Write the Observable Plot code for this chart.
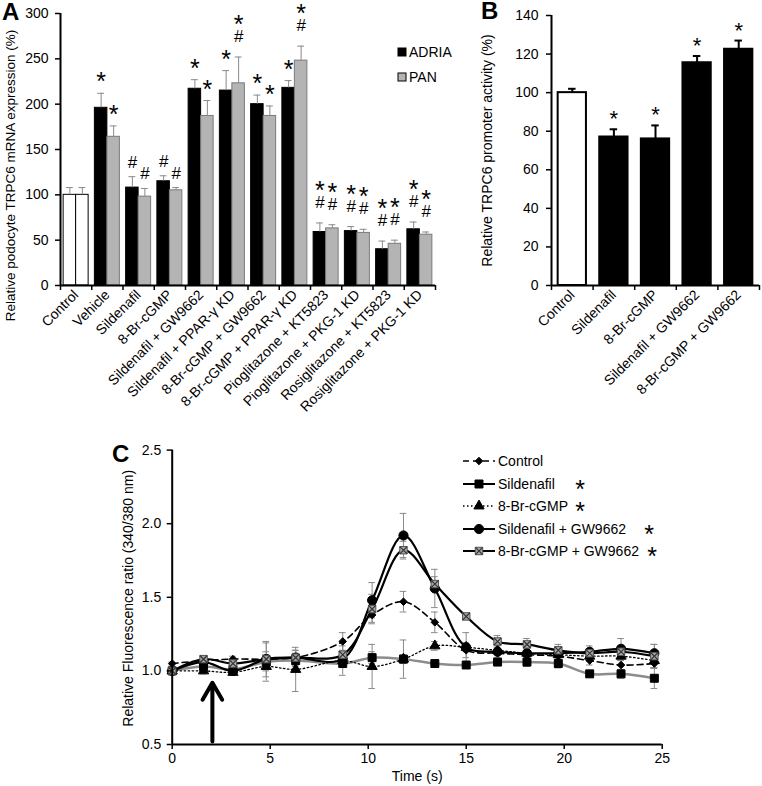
<!DOCTYPE html>
<html><head><meta charset="utf-8">
<script src="https://cdn.jsdelivr.net/npm/d3@7"></script>
<script src="https://cdn.jsdelivr.net/npm/@observablehq/plot@0.6"></script>
<style>
body{margin:0;background:#fff;}
#fig{position:relative;width:762px;height:786px;overflow:hidden;background:#fff;font-family:"Liberation Sans",Arial,sans-serif;color:#000;}
</style></head><body><div id="fig"></div>
<script>
// ---------- Panel A data ----------
const groupsA = ["Control","Vehicle","Sildenafil","8-Br-cGMP","Sildenafil + GW9662","Sildenafil + PPAR-γ KD","8-Br-cGMP + GW9662","8-Br-cGMP + PPAR-γ KD","Pioglitazone + KT5823","Pioglitazone + PKG-1 KD","Rosiglitazone + KT5823","Rosiglitazone + PKG-1 KD"];
const seriesA = ["ADRIA","PAN"];
const adriaA    = [100,196,108,115,217,215,200,218,59,60,40,62];
const adriaTopA = [108,212,120,121,227,237,210,226,69,65,49,70];
const panA      = [100,164,98,105,187,223,187,248,63,58,46,56];
const panTopA   = [108,176,107,108,204,252,198,264,67,62,50,59];
const adriaStarA = [0,1,0,0,1,1,1,1,1,1,1,1];
const adriaHashA = [0,0,1,1,0,0,0,0,1,1,1,1];
const panStarA   = [0,1,0,0,1,1,1,1,1,1,1,1];
const panHashA   = [0,0,1,1,0,1,0,1,1,1,1,1];
const yTicksA = [0,50,100,150,200,250,300];
const yLabelA = "Relative podocyte TRPC6 mRNA expression (%)";

// ---------- Panel B data ----------
const groupsB = ["Control","Sildenafil","8-Br-cGMP","Sildenafil + GW9662","8-Br-cGMP + GW9662"];
const valuesB = [100,77,76,115.5,122.5];
const topB    = [102,81,83,119,127];
const starB   = [0,1,1,1,1];
const yTicksB = [0,20,40,60,80,100,120,140];
const yLabelB = "Relative TRPC6 promoter activity (%)";

// ---------- Panel C data ----------
const timesC = [0,1.6,3.1,4.8,6.3,8.7,10.2,11.8,13.4,15.0,16.6,18.1,19.7,21.3,22.9,24.6];
const seriesC = ["Control","Sildenafil","8-Br-cGMP","Sildenafil + GW9662","8-Br-cGMP + GW9662"];
const controlC    = [1.05,1.07,1.08,1.08,1.09,1.20,1.38,1.47,1.33,1.14,1.12,1.11,1.10,1.07,1.04,1.05];
const controlErrC = [0.01,0.02,0.02,0.03,0.03,0.06,0.05,0.07,0.07,0.05,0.03,0.03,0.03,0.03,0.03,0.03];
const sildC       = [1.00,1.03,1.01,1.06,1.07,1.05,1.09,1.08,1.05,1.04,1.06,1.06,1.05,0.98,0.98,0.95];
const sildErrC    = [0.01,0.03,0.03,0.13,0.04,0.08,0.04,0.13,0.02,0.02,0.02,0.03,0.03,0.02,0.03,0.07];
const brC         = [1.00,1.00,0.99,1.03,1.01,1.07,1.03,1.08,1.17,1.16,1.14,1.12,1.11,1.10,1.10,1.07];
const brErrC      = [0.01,0.02,0.02,0.03,0.15,0.03,0.15,0.03,0.03,0.03,0.03,0.03,0.03,0.03,0.03,0.05];
const sildGwC     = [1.00,1.06,1.00,1.08,1.09,1.08,1.48,1.92,1.56,1.16,1.13,1.12,1.12,1.13,1.15,1.12];
const sildGwErrC  = [0.01,0.03,0.03,0.05,0.05,0.05,0.12,0.15,0.13,0.10,0.05,0.04,0.04,0.04,0.07,0.06];
const brGwC       = [1.00,1.08,1.05,1.08,1.09,1.11,1.42,1.82,1.59,1.37,1.20,1.18,1.14,1.12,1.13,1.10];
const brGwErrC    = [0.01,0.02,0.03,0.12,0.05,0.06,0.10,0.06,0.05,0.02,0.04,0.04,0.04,0.03,0.04,0.08];
const starC = [0,1,1,1,1];
const stimulusC = [{t: 2.05, from: 0.52, to: 0.92}];
const yTicksC = [0.5,1.0,1.5,2.0,2.5];
const xTicksC = [0,5,10,15,20,25];
const yLabelC = "Relative Fluorescence ratio (340/380 nm)";
const xLabelC = "Time (s)";

// ---------- helpers ----------
const FONT = "Liberation Sans, Arial, sans-serif";
const fig = document.getElementById("fig");
function place(el, left, top){ el.style.position="absolute"; el.style.left=left+"px"; el.style.top=top+"px"; fig.appendChild(el); }
const baseStyle = {fontFamily: FONT, fontSize: "14px", background: "transparent", overflow: "visible", color: "black"};

// ---------- Panel A ----------
const rowsA = groupsA.flatMap((g,i) => [
  {g, i, s:"ADRIA", v: adriaA[i], top: adriaTopA[i], star: adriaStarA[i], hash: adriaHashA[i]},
  {g, i, s:"PAN",   v: panA[i],   top: panTopA[i],   star: panStarA[i],   hash: panHashA[i]}
]);
const slotA = {ADRIA:[0.1,0.5], PAN:[0.5,0.9]};
const cxA = d => d.i + (slotA[d.s][0]+slotA[d.s][1])/2;
const fillA = d => d.i===0 ? "white" : (d.s==="ADRIA" ? "black" : "#b4b4b4");
const strokeA = d => d.i===0 ? "black" : (d.s==="ADRIA" ? "black" : "#7a7a7a");

const plotA = Plot.plot({
  width: 470, height: 440, marginLeft: 60, marginRight: 35, marginTop: 13, marginBottom: 155,
  style: baseStyle,
  x: {domain:[0,12]}, y: {domain:[0,300]},
  marks: [
    Plot.rectY(rowsA, {x1: d=>d.i+slotA[d.s][0], x2: d=>d.i+slotA[d.s][1], y1: 0, y2: "v", fill: fillA, stroke: strokeA, strokeWidth: 1}),
    Plot.ruleX(rowsA, {x: cxA, y1: "v", y2: "top", stroke: "#8a8a8a", strokeWidth: 1}),
    Plot.ruleY(rowsA, {y: "top", x1: d=>cxA(d)-0.11, x2: d=>cxA(d)+0.11, stroke: "#8a8a8a", strokeWidth: 1}),
    Plot.text(rowsA.filter(d=>d.star && !d.hash), {x: cxA, y: "top", text: ()=>"*", fontSize: 25, lineAnchor: "bottom", dy: -3}),
    Plot.text(rowsA.filter(d=>d.hash && !d.star), {x: cxA, y: "top", text: ()=>"#", fontSize: 17, lineAnchor: "bottom", dy: -9}),
    Plot.text(rowsA.filter(d=>d.hash && d.star), {x: cxA, y: "top", text: ()=>"#", fontSize: 17, lineAnchor: "bottom", dy: -15}),
    Plot.text(rowsA.filter(d=>d.hash && d.star), {x: cxA, y: "top", text: ()=>"*", fontSize: 25, lineAnchor: "bottom", dy: -24}),
    Plot.ruleX([0], {strokeWidth: 2}),
    Plot.ruleY([0], {strokeWidth: 2}),
    Plot.axisY({ticks: yTicksA, tickSize: 5, tickPadding: 7, fontSize: 14, strokeWidth: 1.5, label: null}),
    Plot.axisX({ticks: d3.range(0,13), tickSize: 5, strokeWidth: 1.5, tickFormat: () => "", label: null}),
    Plot.axisX({ticks: groupsA.map((g,i)=>i+0.5), tickFormat: v => groupsA[Math.floor(v)], tickRotate: -45, tickSize: 0, tickPadding: 7, fontSize: 14, label: null}),
    Plot.text([yLabelA], {text: d=>d, frameAnchor: "left", textAnchor: "middle", rotate: -90, dx: -50, dy: 26, fontSize: 13.5})
  ]
});
place(plotA, 0, 0);

// ---------- Panel B ----------
const rowsB = groupsB.map((g,i)=>({g, i, v: valuesB[i], top: topB[i], star: starB[i]}));
const plotB = Plot.plot({
  width: 292, height: 440, marginLeft: 81, marginRight: 3, marginTop: 15, marginBottom: 155,
  style: baseStyle,
  x: {domain:[0,5]}, y: {domain:[0,140]},
  marks: [
    Plot.rectY(rowsB, {x1: d=>d.i+0.16, x2: d=>d.i+0.84, y1: 0, y2: "v", fill: d=>d.i===0?"white":"black", stroke: "black", strokeWidth: 2}),
    Plot.ruleX(rowsB, {x: d=>d.i+0.5, y1: "v", y2: "top", stroke: "black", strokeWidth: 2}),
    Plot.ruleY(rowsB, {y: "top", x1: d=>d.i+0.41, x2: d=>d.i+0.59, stroke: "black", strokeWidth: 2}),
    Plot.text(rowsB.filter(d=>d.star), {x: d=>d.i+0.5, y: "top", text: ()=>"*", fontSize: 22, lineAnchor: "bottom", dy: -3}),
    Plot.ruleX([0], {strokeWidth: 2}),
    Plot.ruleY([0], {strokeWidth: 2}),
    Plot.axisY({ticks: yTicksB, tickSize: 5, tickPadding: 8, fontSize: 14, strokeWidth: 1.5, label: null}),
    Plot.axisX({ticks: d3.range(0,6), tickSize: 5, strokeWidth: 1.5, tickFormat: () => "", label: null}),
    Plot.axisX({ticks: groupsB.map((g,i)=>i+0.5), tickFormat: v => groupsB[Math.floor(v)], tickRotate: -45, tickSize: 0, tickPadding: 7, fontSize: 14, label: null}),
    Plot.text([yLabelB], {text: d=>d, frameAnchor: "left", textAnchor: "middle", rotate: -90, dx: -64, dy: 0, fontSize: 14})
  ]
});
place(plotB, 470, 0);

// ---------- Panel C ----------
const valsC = [controlC, sildC, brC, sildGwC, brGwC];
const errsC = [controlErrC, sildErrC, brErrC, sildGwErrC, brGwErrC];
const rowsC = seriesC.flatMap((s,k) => timesC.map((t,j)=>({s, k, t, v: valsC[k][j], e: errsC[k][j]})));
const styleC = {
  "Control":            {stroke:"black",   strokeWidth:1.6, dash:"6,4", symbol:"diamond2", r:3.4, fill:"black", mstroke:"black"},
  "Sildenafil":         {stroke:"#8c8c8c", strokeWidth:2.5, dash:null,  symbol:"square",   r:4.5, fill:"black", mstroke:"black"},
  "8-Br-cGMP":          {stroke:"black",   strokeWidth:1.3, dash:"1.5,2.5", symbol:"triangle", r:3.8, fill:"black", mstroke:"black"},
  "Sildenafil + GW9662":{stroke:"black",   strokeWidth:2.2, dash:null,  symbol:"circle",   r:4.6, fill:"black", mstroke:"black"},
  "8-Br-cGMP + GW9662": {stroke:"black",   strokeWidth:2.2, dash:null,  symbol:"square",   r:4.2, fill:"#a8a8a8", mstroke:"#555"}
};
const marksC = [
  Plot.ruleX(rowsC, {x:"t", y1: d=>d.v-d.e, y2: d=>d.v+d.e, stroke:"#8a8a8a", strokeWidth: 1}),
  Plot.ruleY(rowsC, {y: d=>d.v+d.e, x1: d=>d.t-0.17, x2: d=>d.t+0.17, stroke:"#8a8a8a", strokeWidth: 1}),
  Plot.ruleY(rowsC, {y: d=>d.v-d.e, x1: d=>d.t-0.17, x2: d=>d.t+0.17, stroke:"#8a8a8a", strokeWidth: 1})
];
seriesC.forEach(s => {
  const st = styleC[s];
  marksC.push(Plot.line(rowsC.filter(d=>d.s===s), {x:"t", y:"v", curve:"catmull-rom", stroke: st.stroke, strokeWidth: st.strokeWidth, strokeDasharray: st.dash || undefined}));
});
seriesC.forEach(s => {
  const st = styleC[s];
  marksC.push(Plot.dot(rowsC.filter(d=>d.s===s), {x:"t", y:"v", symbol: st.symbol, r: st.r, fill: st.fill, stroke: st.mstroke, strokeWidth: 1}));
  if (s === "8-Br-cGMP + GW9662") marksC.push(Plot.dot(rowsC.filter(d=>d.s===s), {x:"t", y:"v", symbol: "times", r: 3.4, stroke: "#333", strokeWidth: 1.2}));
});
marksC.push(
  Plot.arrow(stimulusC, {x1:"t", x2:"t", y1:"from", y2:"to", stroke:"black", strokeWidth: 4}),
  Plot.ruleX([0], {strokeWidth: 2}),
  Plot.ruleY([0.5], {strokeWidth: 2}),
  Plot.axisY({ticks: yTicksC, tickFormat: d3.format(".1f"), tickSize: 5, tickPadding: 6, fontSize: 14, strokeWidth: 1.5, label: null}),
  Plot.axisX({ticks: xTicksC, tickSize: 5, tickPadding: 4, fontSize: 14, strokeWidth: 1.5, label: null}),
  Plot.text([yLabelC], {text: d=>d, frameAnchor: "left", textAnchor: "middle", rotate: -90, dx: -44, dy: 1, fontSize: 14}),
  Plot.text([xLabelC], {text: d=>d, frameAnchor: "bottom", lineAnchor: "bottom", dy: 36, fontSize: 14})
);
const plotC = Plot.plot({
  width: 762, height: 346, marginLeft: 171.7, marginRight: 100.3, marginTop: 9.6, marginBottom: 42,
  style: baseStyle,
  x: {domain:[0,25]}, y: {domain:[0.5,2.5]},
  marks: marksC
});
place(plotC, 0, 440);

// ---------- overlay: panel letters & legends ----------
const ov = d3.select(fig).append("svg").attr("width",762).attr("height",786)
  .style("position","absolute").style("left","0px").style("top","0px")
  .attr("font-family", FONT);
[["A",2,20],["B",481,19],["C",112,462]].forEach(([t,x,y]) =>
  ov.append("text").attr("x",x).attr("y",y).attr("font-size",24).attr("font-weight","bold").text(t));

// Legend A
const legA = {ADRIA:{fill:"black", stroke:"black"}, PAN:{fill:"#b4b4b4", stroke:"black"}};
seriesA.forEach((s,k) => {
  const y = 48 + k*25;
  ov.append("rect").attr("x",398).attr("y",y).attr("width",8).attr("height",8)
    .attr("fill",legA[s].fill).attr("stroke",legA[s].stroke).attr("stroke-width",1);
  ov.append("text").attr("x",409).attr("y",y+9).attr("font-size",14).text(s);
});

// Legend C
const symMap = {diamond2: d3.symbolDiamond2, square: d3.symbolSquare, triangle: d3.symbolTriangle, circle: d3.symbolCircle, times: d3.symbolTimes};
const starXC = [null, 580, 580, 649, 652];
seriesC.forEach((s,k) => {
  const st = styleC[s];
  const y = Math.round(461 + k*22.6);
  const ln = ov.append("line").attr("x1",463).attr("x2",495).attr("y1",y).attr("y2",y)
    .attr("stroke", "black").attr("stroke-width", Math.min(st.strokeWidth,2));
  if (st.dash) ln.attr("stroke-dasharray", st.dash);
  ov.append("path").attr("transform",`translate(479,${y})`)
    .attr("d", d3.symbol(symMap[st.symbol], Math.PI*st.r*st.r)())
    .attr("fill", st.fill).attr("stroke", st.mstroke);
  if (s === "8-Br-cGMP + GW9662")
    ov.append("path").attr("transform",`translate(479,${y})`).attr("d", d3.symbol(d3.symbolTimes, Math.PI*3.4*3.4)())
      .attr("fill","none").attr("stroke","#333").attr("stroke-width",1.2);
  ov.append("text").attr("x",498).attr("y",y+5).attr("font-size",14).text(s);
  if (starC[k]) ov.append("text").attr("x",starXC[k]).attr("y",y+14).attr("font-size",25).attr("text-anchor","middle").text("*");
});
</script></body></html>
